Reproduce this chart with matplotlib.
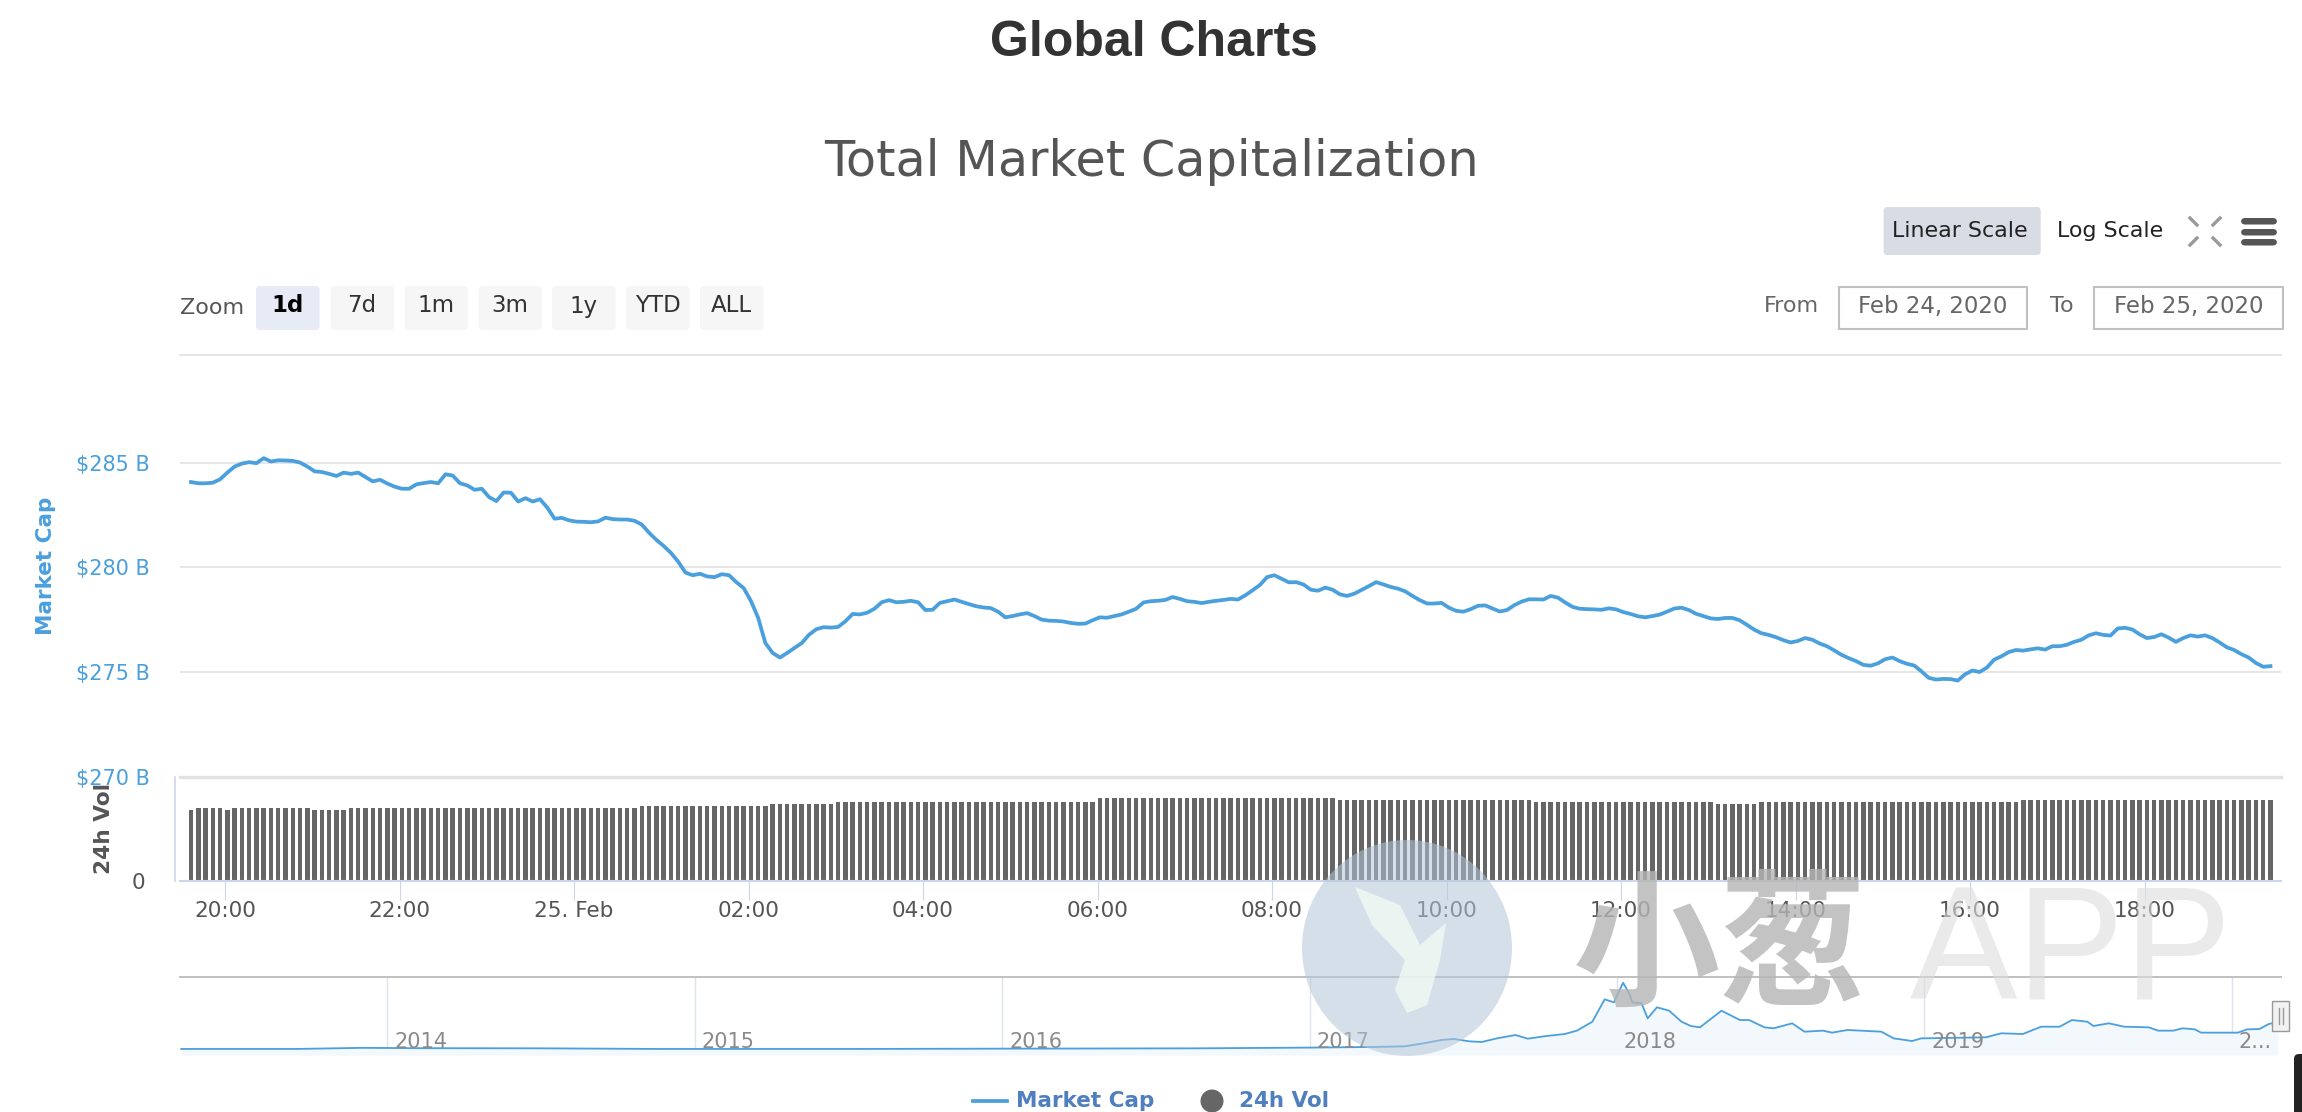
import numpy as np
from matplotlib import pyplot as plt
from matplotlib.patches import Circle, Ellipse, FancyBboxPatch, Polygon, Rectangle

W, H = 2302, 1112
BLUE = '#4a9fdd'

# Market cap ($ B), one reading every 5 minutes from about 19:37 on Feb 24
market_cap = [
    284.07, 284.01, 284.01, 284.04, 284.20, 284.52, 284.81, 284.95, 285.02, 284.97,
    285.21, 285.05, 285.11, 285.10, 285.08, 285.00, 284.81, 284.58, 284.55, 284.46,
    284.36, 284.52, 284.46, 284.52, 284.31, 284.10, 284.18, 284.00, 283.85, 283.75,
    283.75, 283.96, 284.02, 284.07, 284.01, 284.44, 284.38, 284.01, 283.91, 283.70,
    283.75, 283.35, 283.16, 283.57, 283.56, 283.14, 283.30, 283.14, 283.25, 282.85,
    282.32, 282.36, 282.24, 282.18, 282.17, 282.15, 282.19, 282.37, 282.30, 282.28,
    282.28, 282.22, 282.04, 281.65, 281.31, 281.02, 280.69, 280.27, 279.75, 279.62,
    279.69, 279.56, 279.53, 279.67, 279.62, 279.29, 279.01, 278.40, 277.59, 276.38,
    275.91, 275.69, 275.91, 276.15, 276.38, 276.78, 277.04, 277.14, 277.12, 277.15,
    277.42, 277.77, 277.75, 277.83, 278.02, 278.33, 278.43, 278.33, 278.35, 278.40,
    278.33, 277.96, 277.97, 278.30, 278.38, 278.46, 278.35, 278.24, 278.14, 278.08,
    278.05, 277.88, 277.61, 277.67, 277.75, 277.81, 277.67, 277.50, 277.45, 277.44,
    277.41, 277.34, 277.30, 277.31, 277.47, 277.61, 277.59, 277.67, 277.75, 277.88,
    278.02, 278.32, 278.38, 278.40, 278.44, 278.58, 278.49, 278.38, 278.35, 278.29,
    278.35, 278.40, 278.44, 278.49, 278.46, 278.66, 278.90, 279.15, 279.53, 279.62,
    279.45, 279.28, 279.29, 279.18, 278.93, 278.88, 279.03, 278.93, 278.71, 278.63,
    278.74, 278.92, 279.10, 279.29, 279.18, 279.06, 278.98, 278.85, 278.63, 278.43,
    278.27, 278.27, 278.30, 278.07, 277.92, 277.88, 278.00, 278.16, 278.18, 278.03,
    277.89, 277.96, 278.19, 278.36, 278.47, 278.47, 278.46, 278.63, 278.55, 278.32,
    278.11, 278.02, 278.00, 277.99, 277.97, 278.04, 277.99, 277.86, 277.77, 277.66,
    277.61, 277.67, 277.74, 277.88, 278.03, 278.07, 277.96, 277.78, 277.67, 277.56,
    277.53, 277.58, 277.58, 277.47, 277.25, 277.02, 276.85, 276.77, 276.66, 276.52,
    276.41, 276.48, 276.62, 276.54, 276.36, 276.23, 276.03, 275.82, 275.66, 275.52,
    275.34, 275.30, 275.41, 275.61, 275.69, 275.52, 275.39, 275.31, 275.03, 274.72,
    274.64, 274.67, 274.66, 274.59, 274.89, 275.07, 275.00, 275.21, 275.59, 275.75,
    275.95, 276.05, 276.02, 276.08, 276.13, 276.07, 276.23, 276.23, 276.30, 276.44,
    276.54, 276.75, 276.85, 276.77, 276.74, 277.08, 277.11, 277.03, 276.80, 276.62,
    276.67, 276.80, 276.64, 276.44, 276.62, 276.75, 276.69, 276.75, 276.62, 276.41,
    276.18, 276.05, 275.85, 275.69, 275.43, 275.25, 275.28,
]

# 24h volume: the bars step, so store level and how many bars stay on it
vol_levels = [170.0, 174.8, 170.0, 174.8, 170.0, 174.8, 179.6, 184.4, 189.8, 199.4,
              193.9, 189.8, 184.4, 189.8, 194.6]
vol_counts = [1, 4, 1, 11, 5, 40, 18, 9, 36, 33, 27, 25, 6, 36, 35]

time_ticks = [20, 22, 24, 26, 28, 30, 32, 34, 36, 38, 40, 42]
time_labels = ['20:00', '22:00', '25. Feb', '02:00', '04:00', '06:00', '08:00', '10:00',
               '12:00', '14:00', '16:00', '18:00']
cap_ticks = [270, 275, 280, 285]
cap_labels = ['$270 B', '$275 B', '$280 B', '$285 B']

# navigator series, whole history
nav_years = [2013.33, 2013.7, 2013.92, 2014.1, 2014.5, 2014.9, 2015.5, 2016.0, 2016.64,
             2017.00, 2017.21, 2017.31, 2017.37, 2017.43, 2017.47, 2017.52, 2017.56,
             2017.61, 2017.67, 2017.71, 2017.77, 2017.83, 2017.87, 2017.92, 2017.96,
             2017.99, 2018.02, 2018.04, 2018.05, 2018.08, 2018.10, 2018.13, 2018.17,
             2018.21, 2018.24, 2018.27, 2018.34, 2018.40, 2018.43, 2018.48, 2018.51,
             2018.57, 2018.61, 2018.67, 2018.70, 2018.75, 2018.86, 2018.90, 2018.96,
             2018.99, 2019.20, 2019.25, 2019.32, 2019.38, 2019.44, 2019.48, 2019.53,
             2019.55, 2019.60, 2019.65, 2019.73, 2019.76, 2019.81, 2019.84, 2019.88,
             2019.90, 2020.02, 2020.05, 2020.09, 2020.12, 2020.15]
nav_cap = [10, 10, 24, 20, 18, 10, 10, 14, 18,
           27, 35, 43, 80, 122, 134, 105, 97,
           142, 184, 138, 171, 196, 238, 349, 627,
           590, 834, 701, 590, 577, 391, 528, 486,
           349, 296, 279, 486, 370, 370, 279, 267,
           329, 225, 238, 213, 246, 225, 142, 109,
           142, 155, 205, 196, 287, 287, 370, 349,
           296, 329, 287, 279, 238, 238, 267, 254,
           213, 213, 254, 258, 320, 345]
nav_ticks = [2014, 2015, 2016, 2017, 2018, 2019, 2020]
nav_labels = ['2014', '2015', '2016', '2017', '2018', '2019', '2...']


def px_axes(x0, y0, x1, y1):
    return fig.add_axes([x0 / W, 1 - y1 / H, (x1 - x0) / W, (y1 - y0) / H])


fig = plt.figure(figsize=(W / 100, H / 100), dpi=100, facecolor='white')

times = 19.61 + np.arange(len(market_cap)) * 5 / 60
volume = np.repeat(vol_levels, vol_counts)
xlim = (19.484, 43.564)

# price panel
ax = px_axes(180, 354.5, 2281, 776.7)
ax.plot(times, market_cap, color=BLUE, lw=2.7, solid_joinstyle='round', zorder=3)
ax.set_xlim(xlim)
ax.set_ylim(270, 290.16)
ax.set_yticks(cap_ticks)
ax.set_yticklabels(cap_labels, color=BLUE, fontsize=15)
ax.tick_params(axis='y', length=0, pad=21.9)
ax.set_xticks([])
ax.grid(axis='y', color='#e2e2e2', lw=1.2)
ax.set_axisbelow(True)
for side in ['left', 'right']:
    ax.spines[side].set_visible(False)
ax.spines['top'].set_color('#e2e2e2')
ax.spines['top'].set_linewidth(1.2)
ax.spines['bottom'].set_color('#e2e2e2')
ax.spines['bottom'].set_linewidth(2.4)
ax.set_ylabel('Market Cap', color=BLUE, fontweight='bold', fontsize=15.5)
ax.yaxis.set_label_coords((56 - 180) / 2101, 0.499)

# volume panel
ax_vol = px_axes(180, 776.7, 2281, 880.7)
ax_vol.patch.set_visible(False)
# set_position resets the ticks, so it comes before the tick styling
ax_vol.spines['left'].set_position(('outward', 3.6))
ax_vol.bar(19.61 + np.arange(len(volume)) * 5 / 60, volume, width=4.5 / 87.25, color='#666666')
ax_vol.set_xlim(xlim)
ax_vol.set_ylim(0, 250)
ax_vol.set_xticks(time_ticks)
ax_vol.set_xticklabels(time_labels, color='#555555', fontsize=15.5)
ax_vol.tick_params(axis='x', length=13.5, width=0.8, color='#ccd6eb', pad=1)
ax_vol.set_yticks([0])
ax_vol.set_yticklabels(['0'], color='#555555', fontsize=15.5)
ax_vol.tick_params(axis='y', length=0, pad=21.6)
ax_vol.spines['top'].set_visible(False)
ax_vol.spines['right'].set_visible(False)
ax_vol.spines['left'].set_color('#ccd6eb')
ax_vol.spines['left'].set_linewidth(1.2)
ax_vol.spines['bottom'].set_color('#ccd6eb')
ax_vol.spines['bottom'].set_linewidth(1.5)
ax_vol.set_ylabel('24h Vol', color='#555555', fontweight='bold', fontsize=15.6)
ax_vol.yaxis.set_label_coords((113.5 - 180) / 2101, 0.507)

# navigator
ax_nav = px_axes(180, 977, 2281, 1055)
ax_nav.fill_between(nav_years, nav_cap, -65, color='#f2f8fc', lw=0)
ax_nav.plot(nav_years, nav_cap, color=BLUE, lw=1.3)
ax_nav.set_xlim(2013.326, 2020.16)
ax_nav.set_ylim(-65, 905)
ax_nav.set_xticks(nav_ticks)
ax_nav.set_xticklabels([])
ax_nav.set_yticks([])
ax_nav.tick_params(axis='x', length=0)
ax_nav.grid(axis='x', color='#dfe4ec', lw=1)
ax_nav.set_axisbelow(True)
for side in ['left', 'right', 'bottom']:
    ax_nav.spines[side].set_visible(False)
ax_nav.spines['top'].set_color('#c0c0c0')
ax_nav.spines['top'].set_linewidth(1.4)
for year, label in zip(nav_ticks, nav_labels):
    ax_nav.annotate(label, (year, 0), xycoords=('data', 'axes fraction'), xytext=(5, 5),
                    textcoords='offset points', color='#8a8a8a', fontsize=15, va='baseline')

# everything around the charts, in picture pixels
ui = fig.add_axes([0, 0, 1, 1], zorder=5)
ui.set_xlim(0, W)
ui.set_ylim(H, 0)
ui.axis('off')
ui.patch.set_visible(False)


def button(x0, y0, x1, y1, color):
    ui.add_patch(FancyBboxPatch((x0 + 3, y0 + 3), x1 - x0 - 6, y1 - y0 - 6,
                                boxstyle='round,pad=3,rounding_size=4', fc=color, ec='none'))


ui.text(1154, 43, 'Global Charts', family='Liberation Sans', fontweight='bold', fontsize=36,
        color='#333333', ha='center', va='center')
ui.text(1152, 162, 'Total Market Capitalization', fontsize=35.6, color='#555555',
        ha='center', va='center')

ui.text(180, 307.6, 'Zoom', fontsize=16, color='#555555', va='center')
zoom_names = ['1d', '7d', '1m', '3m', '1y', 'YTD', 'ALL']
zoom_left = [256, 330.6, 404.6, 478.6, 552, 626, 700]
for name, left in zip(zoom_names, zoom_left):
    active = name == '1d'
    button(left, 286, left + 63.5, 330, '#e6ebf5' if active else '#f6f6f6')
    ui.text(left + 31.5, 306, name, fontsize=16.5, ha='center', va='center',
            color='black' if active else '#333333', fontweight='bold' if active else 'normal')

button(1883.6, 207, 2040.7, 255, '#d8dde5')
ui.text(1960, 231, 'Linear Scale', fontsize=15.9, color='#222222', ha='center', va='center')
ui.text(2110, 231, 'Log Scale', fontsize=15.9, color='#222222', ha='center', va='center')
for x0, x1, y0, y1 in [(2190, 2197, 218, 225), (2220, 2213, 218, 225),
                       (2190, 2197, 245, 238), (2220, 2213, 245, 238)]:
    ui.plot([x0, x1], [y0, y1], color='#999999', lw=2.4)
for y0 in [218, 229, 239]:
    button(2241, y0, 2277, y0 + 6.5, '#555555')

ui.text(1764, 306, 'From', fontsize=16, color='#666666', va='center')
ui.text(2050, 306, 'To', fontsize=16, color='#666666', va='center')
for x0, x1, date in [(1838.6, 2027, 'Feb 24, 2020'), (2094, 2283, 'Feb 25, 2020')]:
    ui.add_patch(Rectangle((x0, 287), x1 - x0, 42, fc='white', ec='#c0c0c0', lw=1.5))
    ui.text((x0 + x1) / 2, 306, date, fontsize=16.5, color='#666666', ha='center', va='center')

# navigator handle
ui.add_patch(Rectangle((2272, 1001), 17, 30, fc='#f2f2f2', ec='#999999', lw=1))
ui.plot([2279, 2279], [1008, 1024], color='#999999', lw=1)
ui.plot([2283, 2283], [1008, 1024], color='#999999', lw=1)

# legend
ui.plot([973, 1007], [1101, 1101], color=BLUE, lw=2.7)
ui.text(1016, 1101, 'Market Cap', fontsize=15.5, fontweight='bold', color='#4f7fbf', va='center')
ui.add_patch(Circle((1212, 1101), 11.5, fc='#666666', ec='none'))
ui.text(1239, 1101, '24h Vol', fontsize=15.5, fontweight='bold', color='#4f7fbf', va='center')
ui.add_patch(FancyBboxPatch((2298, 1058), 10, 60, boxstyle='round,pad=4,rounding_size=5',
                            fc='#222222', ec='none'))

# watermark on top of everything
ui.add_patch(Ellipse((1407, 948), 210, 216, fc='#b4c6d8', ec='none', alpha=0.55))
ui.add_patch(Polygon([(1355, 887), (1400, 905), (1420, 945), (1446, 923), (1440, 960),
                      (1427, 1005), (1407, 1013), (1395, 990), (1405, 960), (1372, 925)],
                     fc='#f1f8f4', ec='none', alpha=0.85))
ui.text(1720, 950, '小葱', family=['Noto Sans CJK SC', 'DejaVu Sans'], fontweight='bold',
        fontsize=106, color='#b5b5b5', alpha=0.8, ha='center', va='center')
ui.text(2071, 958, 'APP', family='Liberation Sans', fontsize=116, color='#dddddd', alpha=0.6,
        ha='center', va='center')

fig.savefig('out.png', dpi=100)
